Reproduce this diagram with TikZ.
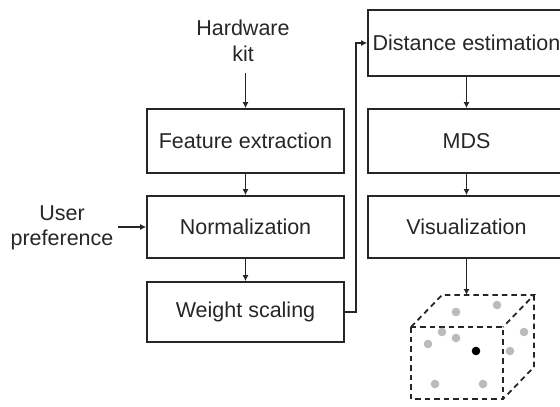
\documentclass[tikz,border=0pt]{standalone}
\usepackage{fontspec}
\setmainfont{Liberation Sans}
\usetikzlibrary{arrows.meta}
\definecolor{ink}{HTML}{262626}
\definecolor{dotgray}{HTML}{BBBBBB}
\tikzset{
  stepbox/.style={draw=ink, line width=1.7pt, rectangle, minimum width=197pt, inner sep=0pt, text=ink, font=\fontsize{21.5}{25.5}\selectfont},
  lbl/.style={align=center, inner sep=0pt, text=ink, font=\fontsize{21.5}{25.5}\selectfont},
  arr/.style={draw=ink, line width=1.5pt, -{Latex[length=6pt,width=6pt]}},
  cube/.style={draw=ink, line width=1.8pt, dash pattern=on 5.5pt off 4pt},
  gdot/.style={fill=dotgray, draw=none},
  bdot/.style={fill=black, draw=none}
}
\begin{document}
\begin{tikzpicture}[x=1pt, y=-1pt]
\useasboundingbox (0,0) rectangle (560,407);
% left column
\node[stepbox, minimum height=64pt] (fe) at (245.5,141) {Feature extraction};
\node[stepbox, minimum height=62pt] (no) at (245.5,227) {Normalization};
\node[stepbox, minimum height=60pt] (ws) at (245.5,312) {Weight scaling};
% right column
\node[stepbox, minimum height=66pt] (de) at (466.5,43) {Distance estimation};
\node[stepbox, minimum height=64pt] (md) at (466.5,141) {MDS};
\node[stepbox, minimum height=62pt] (vi) at (466.5,227) {Visualization};
% inputs
\node[lbl] (hw) at (243,41) {Hardware\\kit};
\node[lbl] (up) at (62,228) {User\\preference};
\coordinate (hwend) at (245.5,73);
\coordinate (upend) at (118,227);
\coordinate (bend) at (356,312);
\coordinate (cubetop) at (466.5,295);
% connectors
\draw[arr] (hwend) -- (fe.north);
\draw[arr] (fe) -- (no);
\draw[arr] (no) -- (ws);
\draw[arr] (upend) -- (no.west);
\draw[arr] (ws.east) -- (bend) |- (de.west);
\draw[arr] (de) -- (md);
\draw[arr] (md) -- (vi);
\draw[arr] (vi.south) -- (cubetop);
% cube
\draw[cube] (411,327) rectangle (503,399);
\draw[cube] (411,327) -- (442,295) -- (534,295) -- (503,327);
\draw[cube] (534,295) -- (534,367) -- (503,399);
% dots
\foreach \p in {(456,312),(497,305),(524,332),(442,332),(428,344),(456,338),(510,351),(435,384),(483,384)}
  \fill[gdot] \p circle (4.3pt);
\fill[bdot] (476,351) circle (4.3pt);
\end{tikzpicture}
\end{document}
